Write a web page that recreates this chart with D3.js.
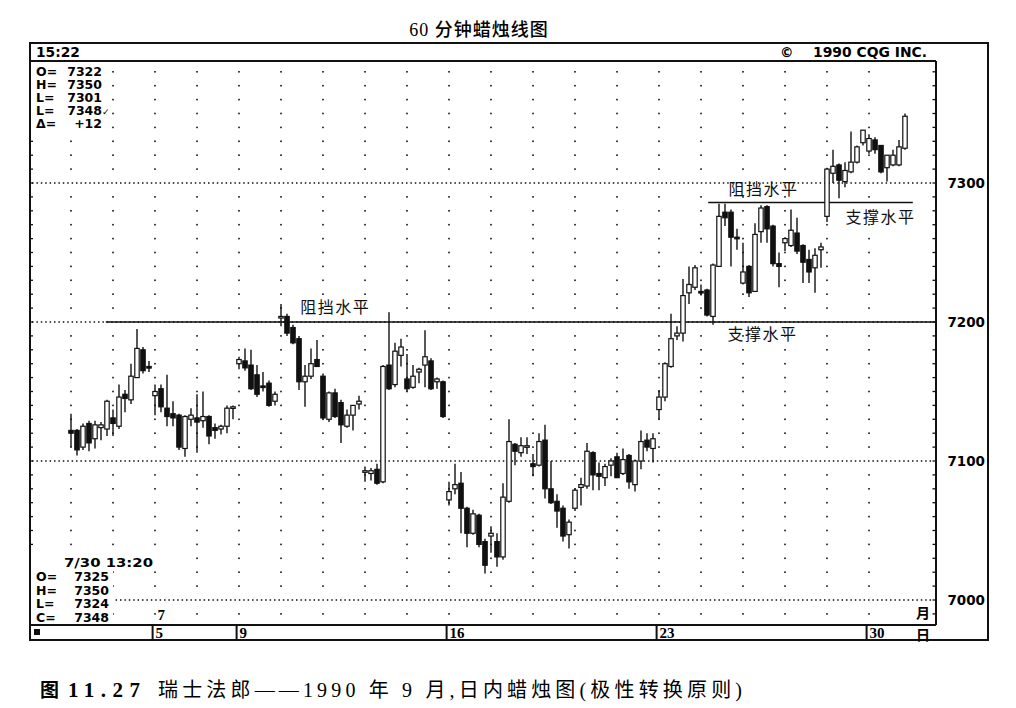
<!DOCTYPE html>
<html><head><meta charset="utf-8">
<script src="https://cdn.jsdelivr.net/npm/d3@7/dist/d3.min.js"></script>
<style>body{margin:0;background:#fff}svg{display:block}</style>
</head><body>
<svg id="c" width="1016" height="708"></svg>
<script>
// ---- data ----
const opens = [7122,7122,7110,7127,7116,7124,7123,7131,7125,7148,7144,7160,7180,7168,
7147,7152,7138,7134,7133,7109,7130,7131,7129,7132,7124,7123,7125,7138,
7170,7172,7169,7162,7154,7156,7143,7203,7204,7196,7188,7157,7161,7173,7161,7130,7149,7142,7125,7133,7141,
7092,7091,7094,7085,7169,7155,7176,7159,7153,7164,7169,7172,7157,7157,
7072,7080,7084,7066,7048,7061,7042,7046,7042,7031,7071,7112,7106,7110,7098,7097,7115,7080,7071,7066,7047,
7066,7081,7082,7106,7091,7088,7097,7103,7091,7104,7083,7100,7115,7109,
7137,7146,7168,7190,7192,7221,7225,7222,7223,7204,7240,7279,7279,7261,7228,7240,7222,7265,7283,7269,7242,
7257,7255,7264,7255,7245,7239,7252,7276,7307,7313,7301,7308,7315,7329,
7323,7331,7327,7311,7313,7313,7325];
const highs = [7134,7123,7127,7129,7129,7128,7144,7137,7155,7151,7170,7195,7182,7172,
7155,7155,7162,7143,7134,7133,7138,7148,7150,7133,7127,7126,7140,7140,
7175,7181,7180,7169,7164,7158,7150,7213,7206,7198,7190,7169,7181,7187,7163,7150,7152,7144,7137,7140,7147,
7096,7095,7098,7169,7207,7185,7188,7177,7169,7167,7194,7174,7160,7158,
7085,7098,7092,7067,7065,7062,7044,7053,7048,7084,7130,7113,7117,7117,7105,7120,7126,7100,7076,7068,7058,
7080,7088,7113,7107,7099,7098,7102,7106,7109,7105,7101,7122,7120,7120,
7151,7171,7206,7197,7231,7240,7241,7227,7224,7242,7285,7285,7281,7267,7257,7241,7271,7284,7284,7270,7250,
7261,7281,7275,7256,7252,7253,7257,7311,7324,7314,7315,7337,7327,7338,
7335,7333,7327,7320,7324,7331,7350];
const lows = [7110,7104,7108,7107,7109,7115,7118,7118,7123,7135,7141,7160,7163,7164,
7133,7135,7125,7125,7108,7103,7125,7106,7124,7112,7116,7119,7120,7130,
7166,7165,7151,7146,7150,7139,7140,7197,7190,7184,7151,7139,7159,7168,7130,7128,7131,7113,7124,7122,7137,
7085,7086,7083,7084,7151,7153,7168,7150,7152,7156,7153,7151,7152,7131,
7068,7076,7048,7038,7047,7038,7019,7034,7024,7029,7070,7097,7103,7105,7089,7096,7073,7069,7052,7042,7037,
7064,7068,7080,7079,7079,7082,7089,7088,7090,7080,7078,7094,7107,7099,
7130,7143,7167,7187,7186,7213,7223,7219,7204,7198,7240,7269,7240,7252,7227,7218,7222,7257,7257,7240,7225,
7251,7254,7249,7228,7228,7221,7239,7272,7300,7289,7297,7307,7314,7327,
7321,7321,7307,7301,7312,7312,7324];
const closes = [7120,7108,7125,7113,7126,7126,7143,7127,7146,7145,7161,7181,7165,7167,
7150,7139,7132,7131,7110,7132,7133,7128,7132,7118,7122,7125,7138,7139,
7173,7167,7152,7148,7153,7140,7148,7204,7192,7185,7157,7161,7170,7168,7131,7149,7132,7126,7133,7140,7143,
7093,7093,7084,7168,7152,7179,7182,7152,7161,7166,7175,7152,7159,7132,
7078,7083,7066,7048,7062,7040,7025,7048,7031,7074,7114,7107,7111,7111,7096,7114,7080,7070,7064,7046,7056,
7079,7083,7107,7090,7089,7096,7100,7088,7101,7085,7100,7114,7110,7116,
7146,7170,7188,7192,7219,7227,7239,7221,7205,7241,7276,7275,7261,7260,7236,7221,7263,7282,7267,7242,7240,
7260,7266,7251,7243,7236,7248,7254,7310,7312,7302,7309,7315,7326,7338,
7332,7324,7308,7320,7320,7326,7348];

const priceTicks = [7000, 7100, 7200, 7300];
const dayLabels = ["5", "9", "16", "23", "30"];
const dayStarts = [14, 28, 63, 98, 133];
const monthLabel = "7";
const levelPrices = [7200, 7286];
const levelNames = ["阻挡水平", "支撑水平", "阻挡水平", "支撑水平"];
const headerLabels = ["O=", "H=", "L=", "L=", "Δ="];
const headerValues = ["7322", "7350", "7301", "7348", "+12"];
const lastLabels = ["O=", "H=", "L=", "C="];
const lastTime = "7/30 13:20";
const clockText = "15:22";
const copyrightSymbol = "©";
const copyrightText = "1990 CQG INC.";
const titleText = "60 分钟蜡烛线图";
const captionFig = "图";
const captionNum = "11.27";
const captionText = "瑞士法郎——1990 年 9 月,日内蜡烛图(极性转换原则)";

// ---- drawing ----
const candles = opens.map((o, i) => ({i, o, h: highs[i], l: lows[i], c: closes[i]}));
const svg = d3.select("#c");
const L = 30, R = 936, T = 61, B = 625;
const x = d3.scaleLinear().domain([0, candles.length - 1]).range([71, 905]);
const y = d3.scaleLinear().domain([7000, 7300]).range([600, 183]);
const mono = "'DejaVu Sans', sans-serif";
const cjk = "'Noto Sans CJK SC', sans-serif";
const serifCjk = "'Liberation Serif', 'Noto Sans CJK SC', serif";

svg.append("rect").attr("width", 1016).attr("height", 708).attr("fill", "#fff");

// title
svg.append("text").attr("x", 479).attr("y", 36).attr("text-anchor", "middle")
  .attr("font-family", serifCjk).attr("font-size", 18).attr("font-weight", 500)
  .attr("letter-spacing", 1).text(titleText);

// grid dots
const cols = d3.range(0, candles.length, 7);
const rows = d3.range(6990, 7390, 10).filter(p => p % 100 !== 0);
const g = svg.append("g");
rows.forEach(p => cols.forEach(ci => {
  g.append("rect").attr("x", x(ci) - 0.8).attr("y", y(p) - 0.8).attr("width", 1.6).attr("height", 1.6).attr("fill", "#111");
}));
// dense dotted lines at 100s
svg.append("g").selectAll("line").data(priceTicks).join("line")
  .attr("x1", L + 2).attr("x2", R - 2).attr("y1", d => y(d)).attr("y2", d => y(d))
  .attr("stroke", "#111").attr("stroke-width", 1.5).attr("stroke-dasharray", "1.5,2.9");

// axis minor ticks
const tk = d3.range(6990, 7390, 10);
svg.append("g").selectAll("line").data(tk).join("line")
  .attr("x1", R - 3.5).attr("x2", R).attr("y1", d => y(d)).attr("y2", d => y(d))
  .attr("stroke", "#111").attr("stroke-width", 1.3);
svg.append("g").selectAll("line").data(tk).join("line")
  .attr("x1", L).attr("x2", L + 3).attr("y1", d => y(d)).attr("y2", d => y(d))
  .attr("stroke", "#111").attr("stroke-width", 1.3);

// text block backgrounds
svg.append("rect").attr("x", L + 1).attr("y", T + 2).attr("width", 78).attr("height", 68).attr("fill", "#fff");
svg.append("rect").attr("x", L + 1).attr("y", 553).attr("width", 82).attr("height", 70).attr("fill", "#fff");
svg.append("rect").attr("x", 60).attr("y", 553).attr("width", 96).attr("height", 17).attr("fill", "#fff");

// support / resistance lines
svg.append("line").attr("x1", x(5.8)).attr("x2", R).attr("y1", y(levelPrices[0])).attr("y2", y(levelPrices[0]))
  .attr("stroke", "#111").attr("stroke-width", 1.6);
svg.append("line").attr("x1", x(106.2)).attr("x2", x(140.3)).attr("y1", y(levelPrices[1])).attr("y2", y(levelPrices[1]))
  .attr("stroke", "#111").attr("stroke-width", 1.6);

// annotations
const ann = [
  {t: levelNames[0], i: 38.2, p: levelPrices[0], dy: -9},
  {t: levelNames[1], i: 109.4, p: levelPrices[0], dy: 18},
  {t: levelNames[2], i: 109.6, p: levelPrices[1], dy: -7},
  {t: levelNames[3], i: 129.1, p: levelPrices[1], dy: 21}
];
svg.append("g").selectAll("text").data(ann).join("text")
  .attr("x", d => x(d.i)).attr("y", d => y(d.p) + d.dy)
  .attr("font-family", cjk).attr("font-size", 16).attr("letter-spacing", 1.5)
  .attr("fill", "#111").text(d => d.t);

// candles
const cg = svg.append("g");
cg.selectAll("line").data(candles).join("line")
  .attr("x1", d => x(d.i)).attr("x2", d => x(d.i))
  .attr("y1", d => y(d.h)).attr("y2", d => y(d.l))
  .attr("stroke", "#111").attr("stroke-width", 1.4);
cg.selectAll("rect").data(candles).join("rect")
  .attr("x", d => x(d.i) - 2.2).attr("width", 4.4)
  .attr("y", d => y(Math.max(d.o, d.c)))
  .attr("height", d => Math.max(1.6, Math.abs(y(d.o) - y(d.c))))
  .attr("fill", d => d.c >= d.o ? "#fff" : "#111")
  .attr("stroke", "#111").attr("stroke-width", 1.2);

// frame
const fr = svg.append("g").attr("stroke", "#111").attr("fill", "none");
fr.append("rect").attr("x", 30).attr("y", 43).attr("width", 958).attr("height", 597).attr("stroke-width", 2);
fr.append("line").attr("x1", 30).attr("x2", R).attr("y1", T).attr("y2", T).attr("stroke-width", 2);
fr.append("line").attr("x1", R).attr("x2", R).attr("y1", T).attr("y2", B).attr("stroke-width", 2);
fr.append("line").attr("x1", 30).attr("x2", R).attr("y1", B).attr("y2", B).attr("stroke-width", 2);

// header texts
svg.append("text").attr("x", 36).attr("y", 57).attr("font-family", mono).attr("font-size", 13.5)
  .attr("font-weight", "bold").attr("textLength", 44).attr("lengthAdjust", "spacingAndGlyphs").text(clockText);
svg.append("text").attr("x", 780).attr("y", 57).attr("font-family", mono).attr("font-size", 13.5)
  .attr("font-weight", "bold").text(copyrightSymbol);
svg.append("text").attr("x", 813).attr("y", 57).attr("font-family", mono).attr("font-size", 13.5)
  .attr("font-weight", "bold").attr("textLength", 114).attr("lengthAdjust", "spacingAndGlyphs").text(copyrightText);

// top-left info block
const tb = svg.append("g").attr("font-family", mono).attr("font-size", 12.5).attr("font-weight", "bold");
headerLabels.forEach((lab, k) => {
  tb.append("text").attr("x", 36).attr("y", 76 + k * 13).text(lab);
  tb.append("text").attr("x", 102).attr("y", 76 + k * 13).attr("text-anchor", "end").text(headerValues[k]);
  if (k === 3) tb.append("text").attr("x", 102).attr("y", 76 + k * 13).attr("font-size", 9).text("✓");
});

// bottom-left last bar block
const last = candles[candles.length - 1];
const lastVals = [last.o, last.h, last.l, last.c];
const bb = svg.append("g").attr("font-family", mono).attr("font-size", 12.5).attr("font-weight", "bold");
bb.append("text").attr("x", 64).attr("y", 567).attr("textLength", 89).attr("lengthAdjust", "spacingAndGlyphs").text(lastTime);
lastLabels.forEach((lab, k) => {
  bb.append("text").attr("x", 36).attr("y", 581 + k * 13.5).text(lab);
  bb.append("text").attr("x", 109).attr("y", 581 + k * 13.5).attr("text-anchor", "end").text(lastVals[k]);
});

// right axis labels
svg.append("g").selectAll("text").data(priceTicks).join("text")
  .attr("x", 985).attr("y", d => y(d) + 5).attr("text-anchor", "end")
  .attr("font-family", mono).attr("font-size", 13.5).attr("font-weight", "bold").text(d => d);

// date row
const dr = svg.append("g");
dr.selectAll("line").data(dayStarts).join("line")
  .attr("x1", d => x(d - 0.4)).attr("x2", d => x(d - 0.4)).attr("y1", B).attr("y2", 640)
  .attr("stroke", "#111").attr("stroke-width", 2);
dr.selectAll("text").data(dayStarts).join("text")
  .attr("x", d => x(d - 0.4) + 3).attr("y", 638)
  .attr("font-family", "'Liberation Serif', serif").attr("font-size", 15).attr("font-weight", "bold")
  .text((d, k) => dayLabels[k]);
svg.append("text").attr("x", x(dayStarts[0] - 0.4) + 5).attr("y", 620)
  .attr("font-family", "'Liberation Serif', serif").attr("font-size", 15).attr("font-weight", "bold").text(monthLabel);
svg.append("rect").attr("x", 34).attr("y", 629).attr("width", 6).attr("height", 6).attr("fill", "#111");
svg.append("text").attr("x", 916).attr("y", 618).attr("font-family", cjk).attr("font-size", 14).attr("font-weight", "bold").text("月");
svg.append("text").attr("x", 916).attr("y", 640).attr("font-family", cjk).attr("font-size", 14).attr("font-weight", "bold").text("日");

// caption
svg.append("text").attr("x", 40).attr("y", 697).attr("font-family", cjk).attr("font-size", 19)
  .attr("font-weight", "bold").text(captionFig);
svg.append("text").attr("x", 68).attr("y", 697).attr("font-family", "'Liberation Serif', serif").attr("font-size", 21)
  .attr("font-weight", "bold").attr("textLength", 72).attr("lengthAdjust", "spacing").text(captionNum);
svg.append("text").attr("x", 158).attr("y", 697).attr("font-family", serifCjk).attr("font-size", 20)
  .attr("textLength", 584).attr("lengthAdjust", "spacing").text(captionText);
</script>
</body></html>
